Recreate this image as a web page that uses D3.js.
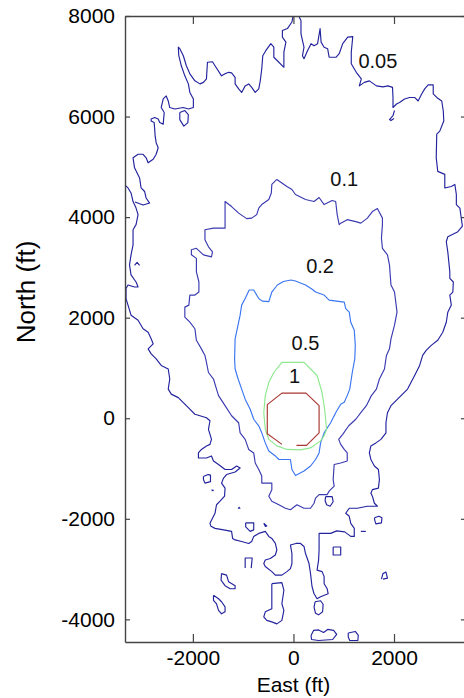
<!DOCTYPE html>
<html lang="en">
<head>
    <meta charset="UTF-8">
    <title>Contours</title>
    <script src="https://d3js.org/d3.v7.min.js"></script>
    <style>
        body { margin: 0; background: #fff; }
        svg { display: block; font-family: Arial, "Liberation Sans", sans-serif; }
    </style>
</head>
<body>
<div id="chart"></div>
<script>
    // contour levels and their labels (label anchor in East/North ft)
    const levels = [0.05, 0.1, 0.2, 0.5, 1];
    const labelText = ["0.05", "0.1", "0.2", "0.5", "1"];
    const labelEast = [1680, 1010, 530, 240, 20];
    const labelNorth = [7100, 4760, 3020, 1500, 840];

    const xTicks = [-2000, 0, 2000];
    const yTicks = [-4000, -2000, 0, 2000, 4000, 6000, 8000];

    // each level: list of polylines of [east, north] in ft
    const contour1 = [
        [[-230,-520],[-350,-430],[-520,-310],[-520,270],[-230,500],[250,500],[510,250],[510,-290],[260,-540],[60,-540]]
    ];

    const contour05 = [
        [[-230,1110],[210,1110],[470,850],[570,510],[620,180],[660,-220],[610,-350],[540,-450],[340,-590],[140,-630],
         [-130,-620],[-330,-550],[-490,-420],[-560,-220],[-590,110],[-560,450],[-490,710],[-390,910],[-230,1110]]
    ];

    const contour02 = [
        [[-50,2750],[40,2730],[240,2650],[380,2560],[440,2510],[610,2450],[710,2350],[1010,2310],[1040,2180],[1110,2110],
         [1140,1910],[1210,1750],[1230,1450],[1220,1180],[1170,910],[1120,580],[1070,450],[1010,320],[940,280],[840,110],
         [740,-90],[610,-290],[540,-490],[510,-690],[440,-820],[340,-950],[210,-1050],[40,-1140],[-30,-1020],[-60,-820],
         [-290,-820],[-360,-750],[-490,-650],[-560,-490],[-630,-290],[-690,-150],[-790,-20],[-860,180],[-960,380],[-1030,580],
         [-1100,780],[-1160,980],[-1170,1180],[-1160,1580],[-1060,2050],[-1030,2250],[-960,2380],[-880,2550],[-790,2550],
         [-690,2380],[-620,2330],[-490,2320],[-430,2510],[-320,2650],[-200,2720],[-50,2750]]
    ];

    const contour01 = [
        [[-330,4750],[-230,4680],[-130,4610],[-30,4550],[40,4450],[240,4350],[410,4310],[510,4390],[610,4250],[770,4330],
         [840,4310],[870,4050],[910,3850],[940,3880],[1070,3950],[1240,3910],[1340,3880],[1470,3980],[1570,4110],[1670,4170],
         [1770,3980],[1770,3850],[1750,3580],[1770,3380],[1870,3250],[1910,3050],[1940,2650],[2010,2510],[2060,2110],[2010,1850],
         [1940,1580],[1910,1380],[1850,1250],[1810,980],[1710,780],[1650,580],[1550,450],[1450,250],[1340,110],[1240,-20],
         [1100,-150],[980,-320],[900,-420],[940,-520],[1010,-620],[1070,-690],[1070,-850],[940,-890],[810,-920],[790,-1220],
         [810,-1350],[710,-1450],[670,-1520],[510,-1520],[440,-1590],[410,-1690],[340,-1790],[210,-1790],[70,-1720],[-60,-1820],
         [-160,-1790],[-290,-1720],[-430,-1650],[-490,-1550],[-430,-1420],[-430,-1290],[-630,-1290],[-630,-1150],[-690,-1020],
         [-760,-890],[-790,-690],[-890,-620],[-960,-420],[-1060,-290],[-1090,-90],[-1230,50],[-1360,250],[-1490,450],[-1530,580],
         [-1590,780],[-1690,910],[-1730,1110],[-1760,1250],[-1830,1380],[-1930,1550],[-1960,1780],[-2060,1910],[-2160,2010],
         [-2160,2210],[-2080,2250],[-2060,2450],[-1960,2450],[-1880,2510],[-1880,2710],[-1930,2910],[-1930,3180],[-2030,3250],
         [-2030,3350],[-1930,3380],[-1790,3250],[-1630,3210],[-1610,3310],[-1690,3410],[-1760,3550],[-1760,3750],[-1590,3780],
         [-1360,3780],[-1360,4310],[-1230,4210],[-1090,4080],[-930,3970],[-830,3980],[-730,4050],[-690,4180],[-630,4250],
         [-490,4350],[-440,4480],[-430,4650],[-330,4750]]
    ];

    const contour005 = [
        // main line, runs out through the west edge
        [[-3360,4650],[-3290,4580],[-3230,4480],[-3190,4310],[-3130,4180],[-3090,4050],[-3130,3850],[-3190,3750],[-3190,3450],
         [-3230,3250],[-3260,3050],[-3230,2850],[-3130,2710],[-3090,2610],[-3160,2610],[-3290,2650],[-3330,2580],[-3330,2380],
         [-3290,2250],[-3230,2050],[-3090,1950],[-2990,1780],[-2890,1710],[-2830,1580],[-2790,1480],[-2890,1380],[-2830,1280],
         [-2730,1180],[-2630,1050],[-2490,980],[-2460,780],[-2490,580],[-2430,480],[-2290,410],[-2190,310],[-2090,210],
         [-1960,80],[-1860,50],[-1730,10],[-1660,-50],[-1690,-220],[-1630,-420],[-1660,-520],[-1730,-550],[-1830,-620],
         [-1890,-690],[-1890,-790],[-1730,-790],[-1630,-750],[-1590,-850],[-1490,-920],[-1360,-1020],[-1230,-1020],[-1130,-950],
         [-1060,-990],[-1160,-1070],[-1330,-1120],[-1390,-1190],[-1430,-1290],[-1360,-1390],[-1370,-1550],[-1460,-1650],
         [-1530,-1720],[-1560,-1890],[-1610,-1990],[-1660,-2090],[-1640,-2150],[-1560,-2190],[-1390,-2220],[-1230,-2250],
         [-1210,-2390],[-1160,-2420],[-1030,-2450],[-890,-2490],[-830,-2450],[-790,-2350],[-690,-2290],[-560,-2250],
         [-490,-2350],[-430,-2390],[-360,-2490],[-330,-2620],[-360,-2720],[-460,-2790],[-560,-2820],[-590,-2890],[-560,-2950],
         [-430,-3050],[-360,-3120],[-230,-3120],[-130,-3050],[-60,-2990],[-30,-2890],[-30,-2690],[-60,-2520],[50,-2490],
         [140,-2490],[210,-2550],[240,-2690],[310,-2890],[340,-3090],[370,-3350],[410,-3490],[470,-3590],[540,-3550],
         [690,-3490],[670,-3390],[610,-3290],[610,-3150],[570,-3050],[470,-3020],[500,-2820],[510,-2620],[510,-2290],
         [740,-2290],[860,-2240],[1020,-2260],[1140,-2350],[1210,-2350],[1210,-2190],[1140,-2090],[1110,-1950],[1040,-1890],
         [1110,-1790],[1270,-1790],[1470,-1750],[1670,-1750],[1610,-1690],[1570,-1550],[1540,-1490],[1570,-1420],[1690,-1390],
         [1710,-1220],[1690,-1020],[1610,-950],[1540,-820],[1510,-690],[1540,-550],[1640,-490],[1740,-420],[1840,-290],
         [1840,-90],[1870,110],[1940,250],[2070,380],[2270,580],[2410,850],[2510,1050],[2570,1250],[2640,1350],[2740,1450],
         [2870,1550],[2970,1710],[3040,1910],[3070,2110],[3140,2250],[3110,2450],[3170,2510],[3180,2710],[3110,2780],
         [3110,2910],[3070,3310],[3040,3510],[3070,3610],[3270,3710],[3360,3820],[3310,4180],[3240,4250],[3240,4450],
         [3210,4650],[3140,4610],[3010,4580],[3010,4850],[2870,4910],[2840,5180],[2850,5650],[2910,5710],[2990,5910],
         [2980,6110],[2950,6310],[2850,6380],[2780,6450],[2780,6630],[2680,6630],[2610,6550],[2550,6450],[2480,6310],
         [2410,6380],[2310,6380],[2210,6350],[2110,6280],[2050,6250],[1980,6180],[1980,6380],[1970,6580],[1880,6610],
         [1780,6590],[1650,6610],[1510,6710],[1410,6680],[1310,6610],[1350,6750],[1250,6880],[1150,7050],[1150,7280],
         [1180,7590],[1080,7580],[980,7450],[910,7250],[850,7180],[710,7180],[680,7350],[610,7380],[550,7480],[530,7750],
         [480,7450],[410,7410],[350,7450],[280,7310],[210,7150],[180,7210],[210,7380],[180,7510],[150,7650],[150,7910],
         [110,7990],[-10,7990],[-30,7880],[-120,7750],[-220,7710],[-220,7580],[-150,7480],[-190,7280],[-190,6980],[-320,7110],
         [-390,7180],[-390,7380],[-450,7450],[-550,7310],[-610,7210],[-630,6950],[-660,6710],[-690,6550],[-760,6480],
         [-830,6580],[-890,6650],[-960,6610],[-1030,6480],[-1090,6550],[-1160,6650],[-1160,6780],[-1230,6870],[-1290,6880],
         [-1360,6850],[-1430,6810],[-1560,7010],[-1610,7090],[-1710,7080],[-1730,6750],[-1790,6680],[-1860,6650],[-1960,6710],
         [-2060,6850],[-2130,7010],[-2190,7210],[-2260,7350],[-2290,7380],[-2280,7210],[-2230,7010],[-2160,6810],[-2090,6650],
         [-2060,6480],[-1990,6350],[-1990,6180],[-2090,6150],[-2190,6180],[-2360,6150],[-2460,6180],[-2490,6310],[-2530,6410],
         [-2590,6350],[-2630,6180],[-2570,6080],[-2590,5850],[-2660,5880],[-2690,5950],[-2760,5980],[-2830,5950],[-2830,5910],
         [-2770,5880],[-2760,5750],[-2750,5610],[-2730,5480],[-2690,5380],[-2730,5250],[-2790,5150],[-2890,5080],[-2930,5180],
         [-2990,5250],[-3090,5250],[-3190,5180],[-3160,4980],[-3060,4780],[-3030,4580],[-2960,4510],[-2930,4380],[-2860,4280],
         [-2990,4240],[-3150,4300]],
        // islands
        [[-2260,6080],[-2160,6120],[-2090,6040],[-2100,5880],[-2180,5810],[-2260,5940],[-2260,6080]],
        [[-3160,3040],[-3110,3100],[-3060,3040]],
        [[2010,6120],[1980,6020],[1910,5940],[1940,5920],[2000,5960]],
        [[-1790,-1160],[-1700,-1120],[-1650,-1130],[-1650,-1260],[-1760,-1290],[-1790,-1220],[-1790,-1160]],
        [[-1630,-1420],[-1600,-1440],[-1590,-1420]],
        [[-1100,-1800],[-1080,-1770],[-1060,-1800]],
        [[-950,-2080],[-790,-2080],[-790,-2220],[-860,-2250],[-950,-2160],[-950,-2080]],
        [[-590,-2090],[-560,-2150],[-530,-2140],[-590,-2090]],
        [[-960,-2980],[-960,-2780],[-820,-2780],[-840,-2980]],
        [[-1430,-3090],[-1330,-3120],[-1290,-3250],[-1160,-3330],[-1160,-3390],[-1260,-3390],[-1360,-3330],[-1440,-3220],[-1430,-3090]],
        [[-1590,-3520],[-1490,-3590],[-1430,-3650],[-1360,-3750],[-1360,-3850],[-1430,-3890],[-1490,-3820],[-1530,-3690],[-1590,-3620],[-1590,-3520]],
        [[-430,-3290],[-230,-3270],[-190,-3420],[-230,-3690],[-190,-3820],[-230,-4020],[-330,-4090],[-430,-4050],[-530,-4020],
         [-590,-3950],[-560,-3850],[-430,-3790],[-430,-3550],[-430,-3290]],
        [[640,-1560],[770,-1560],[790,-1660],[730,-1750],[660,-1720],[630,-1640],[640,-1560]],
        [[1610,-1980],[1700,-1950],[1760,-1980],[1750,-2080],[1640,-2100],[1620,-2040],[1610,-1980]],
        [[1340,-2250],[1440,-2250]],
        [[790,-2560],[940,-2560],[940,-2720],[790,-2720],[790,-2560]],
        [[1750,-3200],[1780,-3090],[1840,-3060],[1870,-3180],[1780,-3200]],
        [[430,-3650],[540,-3630],[590,-3700],[580,-3850],[500,-3910],[440,-3880],[410,-3760],[430,-3650]],
        [[350,-4320],[400,-4220],[500,-4210],[600,-4260],[680,-4200],[800,-4220],[860,-4300],[780,-4400],[500,-4420],[360,-4400],[350,-4320]],
        [[1090,-4270],[1230,-4240],[1290,-4320],[1280,-4420],[1120,-4420],[1090,-4350],[1090,-4270]]
    ];

    const contourSets = [contour005, contour01, contour02, contour05, contour1];

    const width = 464, height = 698;
    const plotLeft = 125, plotTop = 16, plotBottom = 642;

    const y = d3.scaleLinear().domain([-4450, 8000]).range([plotBottom, plotTop]);
    const k = (plotBottom - plotTop) / 12450;
    const x = d3.scaleLinear().domain([-3350, 3450]).range([plotLeft, plotLeft + 6800 * k]);

    const color = d3.scaleOrdinal()
        .domain(levels)
        .range(["#23239e", "#3a3ab2", "#3a76f2", "#8ee88e", "#a83630"]);

    const svg = d3.select("#chart").append("svg")
        .attr("width", width)
        .attr("height", height);

    svg.append("defs").append("clipPath").attr("id", "clip")
        .append("rect")
        .attr("x", x.range()[0]).attr("y", plotTop)
        .attr("width", x.range()[1] - x.range()[0])
        .attr("height", plotBottom - plotTop);

    const line = d3.line().x(d => x(d[0])).y(d => y(d[1]));

    const plot = svg.append("g").attr("clip-path", "url(#clip)");

    contourSets.forEach((paths, i) => {
        plot.append("g")
            .selectAll("path")
            .data(paths)
            .enter().append("path")
            .attr("d", line)
            .attr("fill", "none")
            .attr("stroke", color(levels[i]))
            .attr("stroke-width", 1.15)
            .attr("stroke-linejoin", "round");
    });

    // level labels
    svg.append("g")
        .selectAll("text")
        .data(labelText)
        .enter().append("text")
        .attr("x", (d, i) => x(labelEast[i]))
        .attr("y", (d, i) => y(labelNorth[i]))
        .attr("text-anchor", "middle")
        .attr("dominant-baseline", "central")
        .style("font-size", "20px")
        .style("fill", "#111")
        .text(d => d);

    // axes, ticks pointing inward
    const fmt = d => String(d);
    const axisColor = "#444";

    const gx = svg.append("g")
        .attr("transform", `translate(0,${plotBottom})`)
        .call(d3.axisBottom(x).tickValues(xTicks).tickSize(-8).tickSizeOuter(0).tickPadding(8).tickFormat(fmt));
    const gxTop = svg.append("g")
        .attr("transform", `translate(0,${plotTop})`)
        .call(d3.axisTop(x).tickValues(xTicks).tickSize(-8).tickSizeOuter(0).tickFormat(""));
    const gy = svg.append("g")
        .attr("transform", `translate(${plotLeft},0)`)
        .call(d3.axisLeft(y).tickValues(yTicks).tickSize(-5).tickSizeOuter(0).tickPadding(10).tickFormat(fmt));
    const gyRight = svg.append("g")
        .attr("transform", `translate(${x.range()[1]},0)`)
        .call(d3.axisRight(y).tickValues(yTicks).tickSize(-6).tickSizeOuter(0).tickFormat(""));

    [gx, gxTop, gy, gyRight].forEach(g => {
        g.select(".domain").attr("stroke", axisColor).attr("stroke-width", 1.4);
        g.selectAll(".tick line").attr("stroke", axisColor).attr("stroke-width", 1.2);
        g.selectAll("text")
            .style("font-family", "Arial, 'Liberation Sans', sans-serif")
            .style("font-size", "21px")
            .style("fill", "#000");
    });

    // axis titles
    svg.append("text")
        .attr("x", x(0))
        .attr("y", 692)
        .attr("text-anchor", "middle")
        .style("font-size", "21px")
        .text("East (ft)");

    svg.append("text")
        .attr("transform", "translate(35,292) rotate(-90)")
        .attr("text-anchor", "middle")
        .style("font-size", "26px")
        .text("North (ft)");
</script>
</body>
</html>
